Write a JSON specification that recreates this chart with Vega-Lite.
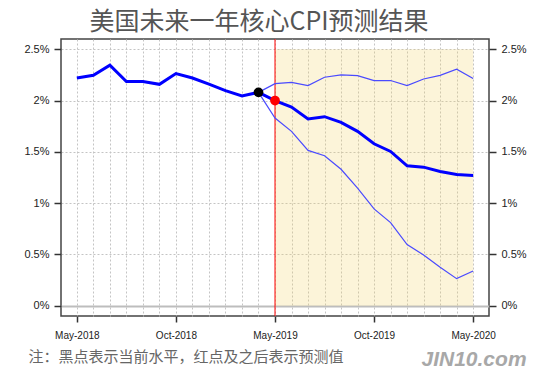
{
  "$schema": "https://vega.github.io/schema/vega-lite/v6.json",
  "width": 428,
  "height": 277,
  "autosize": {"type": "none"},
  "padding": {"left": 61, "top": 39, "right": 61, "bottom": 64},
  "background": "white",
  "title": {
    "text": "美国未来一年核心CPI预测结果",
    "font": "Noto Sans CJK SC",
    "fontSize": 25,
    "fontWeight": "normal",
    "color": "#555555",
    "anchor": "middle",
    "dx": -16,
    "offset": 4
  },
  "config": {
    "view": {"stroke": "#444444", "strokeWidth": 1.5},
    "axis": {"labelFont": "Liberation Sans", "labelColor": "#222222"},
    "axisX": {"labelOverlap": false, "labelFlush": false, "tickCount": 40}
  },
  "datasets": {
    "cpi": [
      {"i": 0, "series": "main", "v": 2.22},
      {"i": 1, "series": "main", "v": 2.246},
      {"i": 2, "series": "main", "v": 2.344},
      {"i": 3, "series": "main", "v": 2.185},
      {"i": 4, "series": "main", "v": 2.185},
      {"i": 5, "series": "main", "v": 2.158},
      {"i": 6, "series": "main", "v": 2.263},
      {"i": 7, "series": "main", "v": 2.22},
      {"i": 8, "series": "main", "v": 2.16},
      {"i": 9, "series": "main", "v": 2.097},
      {"i": 10, "series": "main", "v": 2.045},
      {"i": 11, "series": "main", "v": 2.08},
      {"i": 12, "series": "main", "v": 2.0},
      {"i": 13, "series": "main", "v": 1.937},
      {"i": 14, "series": "main", "v": 1.82},
      {"i": 15, "series": "main", "v": 1.843},
      {"i": 16, "series": "main", "v": 1.787},
      {"i": 17, "series": "main", "v": 1.7},
      {"i": 18, "series": "main", "v": 1.579},
      {"i": 19, "series": "main", "v": 1.504},
      {"i": 20, "series": "main", "v": 1.364},
      {"i": 21, "series": "main", "v": 1.351},
      {"i": 22, "series": "main", "v": 1.309},
      {"i": 23, "series": "main", "v": 1.28},
      {"i": 24, "series": "main", "v": 1.27},
      {"i": 11, "series": "upper", "v": 2.08},
      {"i": 12, "series": "upper", "v": 2.165},
      {"i": 13, "series": "upper", "v": 2.178},
      {"i": 14, "series": "upper", "v": 2.146},
      {"i": 15, "series": "upper", "v": 2.227},
      {"i": 16, "series": "upper", "v": 2.25},
      {"i": 17, "series": "upper", "v": 2.243},
      {"i": 18, "series": "upper", "v": 2.195},
      {"i": 19, "series": "upper", "v": 2.195},
      {"i": 20, "series": "upper", "v": 2.146},
      {"i": 21, "series": "upper", "v": 2.21},
      {"i": 22, "series": "upper", "v": 2.246},
      {"i": 23, "series": "upper", "v": 2.305},
      {"i": 24, "series": "upper", "v": 2.214},
      {"i": 11, "series": "lower", "v": 2.08},
      {"i": 12, "series": "lower", "v": 1.83},
      {"i": 13, "series": "lower", "v": 1.7},
      {"i": 14, "series": "lower", "v": 1.514},
      {"i": 15, "series": "lower", "v": 1.462},
      {"i": 16, "series": "lower", "v": 1.33},
      {"i": 17, "series": "lower", "v": 1.146},
      {"i": 18, "series": "lower", "v": 0.944},
      {"i": 19, "series": "lower", "v": 0.81},
      {"i": 20, "series": "lower", "v": 0.596},
      {"i": 21, "series": "lower", "v": 0.495},
      {"i": 22, "series": "lower", "v": 0.375},
      {"i": 23, "series": "lower", "v": 0.264},
      {"i": 24, "series": "lower", "v": 0.339}
    ],
    "dots": [
      {"i": 11, "v": 2.08, "kind": "current"},
      {"i": 12, "v": 2.0, "kind": "forecast"}
    ]
  },
  "layer": [
    {
      "data": {"values": [{}]},
      "mark": {"type": "rect", "fill": "#f3d367", "opacity": 0.25},
      "encoding": {
        "x": {
          "datum": 12, "type": "quantitative",
          "scale": {"domain": [-0.96, 24.96], "nice": false, "zero": false},
          "axis": {
            "values": [0,1,2,3,4,5,6,7,8,9,10,11,12,13,14,15,16,17,18,19,20,21,22,23,24],
            "tickCount": 40,
            "labelExpr": "datum.value==0?'May-2018':datum.value==6?'Oct-2018':datum.value==12?'May-2019':datum.value==18?'Oct-2019':datum.value==24?'May-2020':''",
            "labelOverlap": false,
            "labelFlush": false,
            "labelFontSize": 10,
            "labelPadding": 8,
            "grid": true,
            "gridDash": [2, 2],
            "gridColor": "#c4c4c4",
            "gridWidth": 1,
            "domain": false,
            "tickSize": 6,
            "tickColor": "#333333",
            "tickWidth": 1.5,
            "tickOpacity": {"condition": {"test": "datum.value % 6 === 0", "value": 1}, "value": 0},
            "title": "注：黑点表示当前水平，红点及之后表示预测值",
            "titleFont": "Noto Sans CJK SC",
            "titleFontSize": 15,
            "titleFontWeight": "normal",
            "titleColor": "#666666",
            "titleAnchor": "start",
            "titleAlign": "left",
            "titleBaseline": "top",
            "titleX": -33,
            "titleY": 33
          }
        },
        "x2": {"datum": 24},
        "y": {
          "datum": 0, "type": "quantitative",
          "scale": {"domain": [-0.1, 2.6], "nice": false, "zero": false},
          "axis": {
            "orient": "right",
            "values": [0, 0.5, 1, 1.5, 2, 2.5],
            "labelExpr": "datum.value + '%'",
            "labelFontSize": 11,
            "labelPadding": 5,
            "grid": false,
            "domain": false,
            "tickSize": 7,
            "tickColor": "#333333",
            "tickWidth": 1.5,
            "title": "JIN10.com",
            "titleFont": "Liberation Sans",
            "titleFontSize": 21,
            "titleFontWeight": "bold",
            "titleFontStyle": "italic",
            "titleColor": "#a8a8a8",
            "titleAngle": 0,
            "titleAlign": "left",
            "titleBaseline": "top",
            "titleX": -68,
            "titleY": 309
          }
        },
        "y2": {"datum": 2.5}
      }
    },
    {
      "layer": [
        {
          "data": {"values": [{}]},
          "mark": {"type": "rule", "color": "#ff0000", "strokeWidth": 1},
          "encoding": {
            "x": {"datum": 12, "type": "quantitative"}
          }
        },
        {
          "data": {"name": "cpi"},
          "transform": [{"filter": "datum.series !== 'main'"}],
          "mark": {"type": "line", "color": "#4a4aff", "strokeWidth": 1.2},
          "encoding": {
            "x": {"field": "i", "type": "quantitative"},
            "y": {
              "field": "v", "type": "quantitative",
              "scale": {"domain": [-0.1, 2.6], "nice": false, "zero": false},
              "axis": {
                "values": [0, 0.5, 1, 1.5, 2, 2.5],
                "labelExpr": "datum.value + '%'",
                "labelFontSize": 11,
                "labelPadding": 5,
                "grid": true,
                "gridDash": {"condition": {"test": "datum.value === 0", "value": []}, "value": [2, 2]},
                "gridColor": {"condition": {"test": "datum.value === 0", "value": "#bdbdbd"}, "value": "#c4c4c4"},
                "gridWidth": {"condition": {"test": "datum.value === 0", "value": 2}, "value": 1},
                "domain": false,
                "tickSize": 7,
                "tickColor": "#333333",
                "tickWidth": 1.5,
                "title": null
              }
            },
            "detail": {"field": "series"}
          }
        },
        {
          "data": {"name": "cpi"},
          "transform": [{"filter": "datum.series === 'main'"}],
          "mark": {"type": "line", "color": "#0000ff", "strokeWidth": 3},
          "encoding": {
            "x": {"field": "i", "type": "quantitative"},
            "y": {"field": "v", "type": "quantitative"}
          }
        },
        {
          "data": {"name": "dots"},
          "mark": {"type": "point", "filled": true, "shape": "circle", "size": 95, "opacity": 1},
          "encoding": {
            "x": {"field": "i", "type": "quantitative"},
            "y": {"field": "v", "type": "quantitative"},
            "color": {
              "field": "kind", "type": "nominal",
              "scale": {"domain": ["current", "forecast"], "range": ["#000000", "#ff0000"]},
              "legend": null
            }
          }
        }
      ]
    }
  ],
  "resolve": {"scale": {"y": "independent"}}
}
